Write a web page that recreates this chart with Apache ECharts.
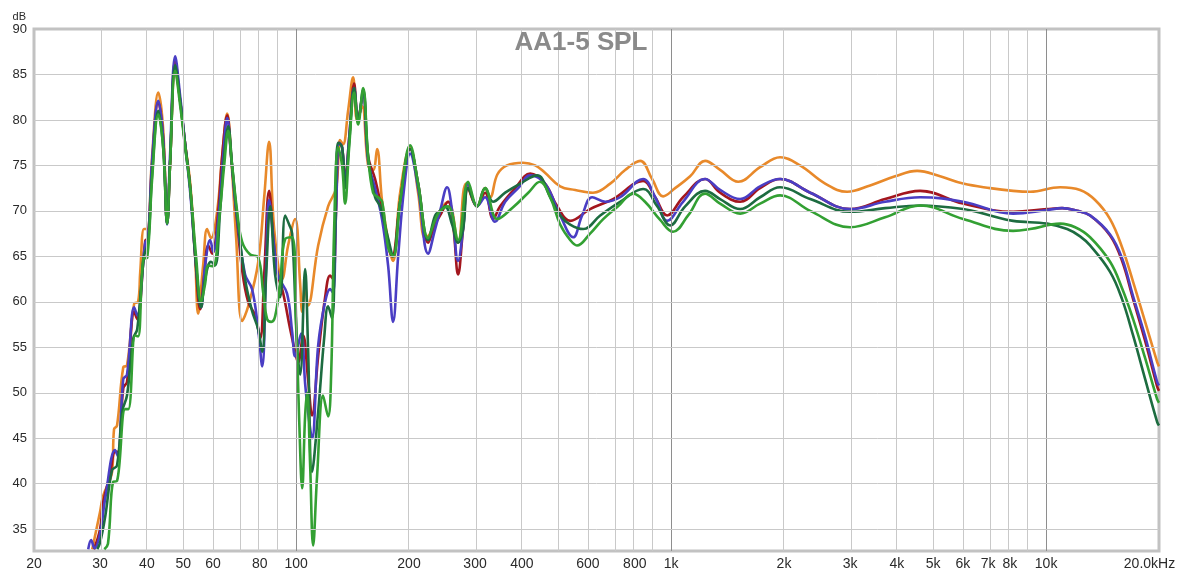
<!DOCTYPE html>
<html>
<head>
<meta charset="utf-8">
<script src="https://cdn.jsdelivr.net/npm/echarts@6/dist/echarts.min.js"></script>
<style>
  html, body { margin: 0; padding: 0; background: #fff; }
  #chart { width: 1179px; height: 571px; }
</style>
</head>
<body>
<div id="chart"></div>
<script>
// Frequency response measurements, [frequency Hz, SPL dB]
const orangeSpl = [[28.6,32.8],[30.0,36.9],[30.6,38.7],[32.3,41.3],[32.7,46.0],[33.3,46.4],[34.6,52.8],[35.4,53.0],[37.0,59.8],[37.9,60.0],[38.4,63.3],[39.3,68.0],[40.1,68.0],[41.3,76.0],[42.9,83.0],[44.2,79.0],[45.3,68.8],[46.1,75.0],[47.6,85.5],[49.1,82.0],[50.6,77.3],[52.2,73.0],[53.8,65.0],[54.8,58.7],[56.5,64.0],[57.9,68.0],[59.3,67.0],[61.6,70.0],[63.5,76.0],[65.5,80.7],[67.1,76.0],[69.2,67.0],[71.8,57.9],[74.5,59.5],[79.2,64.3],[82.2,71.5],[84.7,77.6],[87.4,68.0],[91.8,62.5],[95.2,66.2],[99.4,69.1],[102.5,62.0],[103.8,58.9],[105.7,61.8],[107.6,59.6],[114.5,66.2],[121.7,70.5],[127.8,72.5],[131.0,77.8],[133.4,77.3],[137.6,81.0],[141.9,84.7],[145.4,80.0],[150.0,81.5],[155.6,75.0],[160.4,74.5],[164.4,76.8],[169.6,71.0],[178.1,65.5],[181.4,64.5],[189.4,72.0],[201.4,77.0],[211.5,72.0],[220.8,67.0],[227.7,67.5],[237.7,69.5],[254.3,71.0],[270.4,66.5],[284.0,73.0],[303.8,70.5],[319.1,72.5],[329.1,71.5],[344,74.0],[365,75.0],[403,75.3],[434,75.0],[461,74.2],[506,72.7],[555,72.3],[619,72.0],[688,73.0],[754,74.5],[827,75.5],[890,73.5],[952,71.6],[1025,72.5],[1124,73.8],[1232,75.5],[1351,74.5],[1510,73.2],[1727,74.8],[1953,75.9],[2208,75.0],[2575,73.0],[2947,72.1],[3394,72.8],[3957,73.8],[4529,74.4],[5216,73.8],[6007,73.0],[7092,72.5],[8166,72.2],[9065,72.1],[10900,72.6],[12320,72.3],[13510,71.2],[14810,69.1],[15940,66.0],[17060,62.2],[18370,57.8],[19770,53.4],[20000,52.9]];

const redSpl = [[28.9,32.8],[30.0,35.0],[30.6,38.0],[31.9,41.0],[32.9,43.5],[33.5,43.5],[34.6,50.5],[35.4,51.2],[37.0,58.9],[37.7,58.1],[39.6,66.7],[40.3,67.0],[41.3,75.0],[42.9,82.0],[44.2,78.0],[45.3,68.6],[46.1,75.0],[47.6,86.5],[49.1,82.0],[50.6,77.3],[52.2,72.5],[53.8,65.0],[55.5,59.2],[56.9,63.0],[58.3,66.2],[59.7,65.3],[62.0,70.0],[63.5,76.0],[65.5,80.5],[67.1,76.0],[69.2,70.0],[71.8,63.5],[74.5,60.0],[77.8,58.5],[80.2,56.0],[82.2,63.0],[84.7,72.2],[87.4,66.0],[89.5,62.9],[92.3,61.0],[96.4,57.0],[99.4,54.5],[101.2,53.3],[104.4,56.3],[107.6,51.5],[110.3,47.5],[114.5,54.0],[119.5,60.5],[123.2,62.9],[125.5,62.5],[127.8,70.0],[130.2,77.5],[132.6,77.0],[135.1,73.5],[138.5,78.0],[142.8,84.0],[146.3,80.0],[150.9,83.0],[155.6,76.0],[162.4,73.5],[169.6,70.0],[180.3,65.0],[189.4,71.0],[201.4,76.8],[211.5,73.0],[224.9,66.5],[234.8,68.5],[242.1,69.5],[254.3,71.0],[262.2,68.5],[270.4,63.0],[278.8,68.0],[287.5,72.5],[303.8,70.5],[319.1,72.0],[335.2,69.1],[350,70.5],[384,72.5],[421,74.1],[461,73.0],[497,70.5],[538,68.9],[608,70.2],[700,71.3],[842,73.3],[907,71.5],[976,69.5],[1076,71.5],[1232,73.5],[1351,72.0],[1528,71.0],[1727,72.5],[1953,73.5],[2349,72.0],[3002,70.2],[3721,71.3],[4613,72.2],[6007,70.8],[8166,69.9],[10060,70.2],[11030,70.3],[12100,70.0],[13100,69.5],[14810,67.3],[15940,64.5],[17060,60.3],[18370,55.7],[19770,50.7],[20000,50.2]];

const blueSpl = [[27.9,32.8],[28.4,33.8],[29.0,32.9],[30.0,34.5],[31.0,38.5],[32.9,43.7],[33.5,43.0],[34.6,51.5],[35.4,52.0],[37.0,59.4],[37.7,58.5],[39.6,66.5],[40.3,67.0],[41.3,75.5],[42.9,82.1],[44.2,78.0],[45.3,68.5],[46.1,76.0],[47.6,87.0],[49.1,82.5],[50.6,77.3],[52.2,72.0],[54.1,64.0],[55.8,59.4],[57.2,64.0],[59.0,66.8],[60.1,65.5],[62.3,70.0],[63.9,76.0],[65.5,80.2],[67.1,76.0],[69.2,70.0],[73.1,63.0],[76.3,61.4],[79.2,57.0],[81.2,52.9],[83.2,64.0],[84.7,71.2],[87.4,66.0],[89.5,62.9],[94.6,60.9],[97.6,56.7],[99.4,54.0],[103.1,56.5],[105.7,51.0],[107.6,47.9],[110.3,45.0],[114.5,55.2],[119.5,60.0],[123.2,61.4],[125.5,61.0],[127.8,70.0],[130.2,77.5],[132.6,77.0],[135.1,73.0],[138.5,78.0],[142.8,83.5],[146.3,80.0],[150.9,83.0],[155.6,75.5],[162.4,72.5],[169.6,69.0],[175.9,64.0],[181.4,57.8],[187.1,65.0],[194.1,72.5],[201.4,76.3],[211.5,72.5],[224.9,65.3],[234.8,68.0],[242.1,70.0],[252.7,72.6],[260.6,70.0],[270.4,64.5],[278.8,68.0],[287.5,73.0],[303.8,70.5],[319.1,71.5],[339,68.8],[361,71.0],[391,72.5],[421,73.9],[461,73.0],[506,69.5],[548,67.1],[579,69.5],[616,71.5],[667,71.0],[731,71.5],[842,73.5],[907,71.5],[976,68.9],[1076,71.0],[1232,73.5],[1351,72.3],[1528,71.3],[1727,72.7],[1953,73.5],[2349,72.0],[3002,70.2],[3721,71.0],[4613,71.5],[6007,71.0],[8166,69.7],[10060,70.1],[11030,70.3],[12100,70.0],[13100,69.5],[14810,67.4],[15940,64.8],[17060,60.6],[18370,56.2],[19770,51.2],[20000,50.8]];

const darkGreenSpl = [[29.5,32.8],[30.0,33.5],[31.0,36.5],[32.3,41.5],[33.3,42.0],[34.4,48.0],[35.4,49.7],[36.8,56.0],[37.7,57.0],[39.3,65.0],[40.3,66.5],[41.3,74.0],[42.9,81.0],[44.2,77.0],[45.3,68.6],[46.1,75.0],[47.6,86.0],[49.1,82.0],[50.6,77.3],[52.2,72.5],[54.1,64.0],[55.8,59.4],[57.2,62.5],[59.3,64.4],[60.8,64.0],[62.7,70.0],[64.3,76.0],[65.9,79.3],[67.5,75.0],[69.6,69.5],[73.1,62.5],[76.3,59.0],[79.2,57.0],[81.2,54.5],[83.2,63.0],[85.3,70.5],[87.9,63.0],[90.6,60.5],[93.5,69.5],[95.8,68.5],[97.6,67.5],[100.6,55.2],[102.5,52.0],[105.7,63.6],[107.6,55.0],[110.3,41.3],[114.5,47.9],[118.8,56.0],[121.7,59.5],[124.7,58.2],[127.1,68.0],[129.4,77.5],[132.6,77.0],[135.1,72.5],[138.5,77.5],[142.8,83.5],[146.3,80.0],[150.9,83.3],[155.6,76.0],[162.4,71.5],[167.5,70.5],[175.9,67.0],[181.4,65.0],[189.4,71.0],[201.4,76.8],[211.5,73.0],[224.9,66.8],[234.8,69.5],[242.1,70.0],[249.6,70.5],[260.6,68.5],[270.4,66.5],[278.8,68.0],[287.5,72.5],[303.8,70.5],[319.1,72.5],[335.2,71.0],[361,72.0],[396,73.0],[439,73.9],[476,71.5],[506,69.5],[538,68.5],[583,68.0],[647,69.5],[731,71.0],[842,72.4],[918,70.5],[994,68.4],[1090,70.5],[1232,72.2],[1351,71.3],[1528,70.2],[1727,71.5],[1953,72.6],[2349,71.3],[3002,69.9],[3721,70.3],[4613,70.6],[6007,70.2],[7092,69.5],[8166,68.9],[10060,68.6],[11380,68.0],[12320,67.2],[13100,66.2],[14810,63.3],[15940,60.3],[17060,56.3],[18370,51.5],[19770,46.8],[20000,46.4]];

const greenSpl = [[30.8,32.8],[31.5,33.4],[32.5,40.2],[33.3,40.3],[35.0,48.2],[35.7,48.2],[37.2,56.3],[37.9,56.2],[39.1,64.7],[40.1,64.9],[41.3,73.5],[42.9,80.6],[44.2,77.0],[45.3,68.6],[46.1,75.0],[47.6,85.4],[49.1,81.5],[50.6,77.0],[52.2,72.5],[54.1,65.0],[55.8,60.0],[57.2,62.0],[58.3,64.0],[60.1,63.9],[62.3,69.0],[64.3,75.0],[65.9,78.8],[67.5,75.0],[69.6,70.0],[71.8,66.6],[75.4,65.2],[79.2,64.9],[81.7,61.0],[83.7,58.1],[85.8,57.8],[87.9,58.4],[90.6,62.0],[93.5,66.9],[97.6,67.1],[100.0,58.0],[101.9,47.0],[103.8,39.5],[105.7,47.5],[107.0,50.0],[109.0,42.0],[111.0,33.2],[113.8,41.0],[118.0,49.7],[121.7,47.4],[124.0,52.0],[126.3,68.0],[129.4,77.0],[132.6,75.0],[135.1,70.8],[138.5,77.0],[142.8,83.0],[146.3,79.5],[150.9,83.5],[155.6,76.0],[160.4,72.0],[165.4,71.5],[169.6,71.0],[175.9,66.0],[181.4,65.0],[189.4,71.0],[201.4,77.2],[211.5,73.0],[224.9,67.0],[234.8,69.0],[242.1,70.0],[254.3,70.5],[270.4,66.8],[287.5,73.2],[303.8,70.5],[319.1,72.5],[344,69.1],[379,70.4],[416,72.0],[447,73.2],[476,71.5],[506,68.5],[538,66.8],[561,66.2],[608,67.5],[659,69.1],[722,70.5],[792,71.9],[852,71.0],[935,69.0],[1012,67.7],[1110,69.5],[1232,71.9],[1351,70.8],[1528,69.7],[1727,70.8],[1953,71.7],[2349,70.0],[3002,68.2],[3721,69.3],[4613,70.6],[6007,69.1],[8166,67.8],[9065,68.0],[10900,68.6],[11950,68.2],[13100,67.1],[14810,64.4],[15940,61.5],[17060,58.1],[18370,53.8],[19770,49.3],[20000,48.9]];

// Axis labels and grid
const xLabelFreqs = [20, 30, 40, 50, 60, 80, 100, 200, 300, 400, 600, 800, 1000, 2000, 3000, 4000, 5000, 6000, 7000, 8000, 10000, 20000];
const xLabelTexts = ['20', '30', '40', '50', '60', '80', '100', '200', '300', '400', '600', '800', '1k', '2k', '3k', '4k', '5k', '6k', '7k', '8k', '10k', '20.0kHz'];
const yTickValues = [35, 40, 45, 50, 55, 60, 65, 70, 75, 80, 85, 90];
const freqGridLines = [30, 40, 50, 60, 70, 80, 90, 100, 200, 300, 400, 500, 600, 700, 800, 900, 1000, 2000, 3000, 4000, 5000, 6000, 7000, 8000, 9000, 10000];
const decadeLines = [100, 1000, 10000];

const FREQ_MIN = 20, FREQ_MAX = 20000;
const DB_MIN = 32.6, DB_MAX = 90;
const FONT = '"Liberation Sans", Arial, sans-serif';

const lg = Math.log10;
const toXY = pts => pts.map(([f, db]) => [lg(f), db]);

const chart = echarts.init(document.getElementById('chart'), null, { renderer: 'canvas' });

const gridMarks = []
  .concat(freqGridLines.map(f => ({
    xAxis: lg(f),
    lineStyle: { color: decadeLines.includes(f) ? '#8e8e8e' : '#c9c9c9', width: 1, type: 'solid' }
  })))
  .concat(yTickValues.filter(v => v < DB_MAX).map(v => ({
    yAxis: v,
    lineStyle: { color: '#c9c9c9', width: 1, type: 'solid' }
  })));

const curve = (name, data, color) => ({
  name,
  type: 'line',
  data: toXY(data),
  smooth: 0.4,
  symbol: 'none',
  z: 3,
  lineStyle: { color, width: 2.6 },
  itemStyle: { color },
  emphasis: { disabled: true },
  animation: false
});

chart.setOption({
  backgroundColor: '#ffffff',
  animation: false,
  grid: {
    left: 34, right: 20, top: 29, bottom: 20,
    show: true, borderColor: '#c2c2c2', borderWidth: 3, backgroundColor: '#ffffff'
  },
  xAxis: {
    type: 'value',
    min: lg(FREQ_MIN),
    max: lg(FREQ_MAX),
    axisLine: { show: false },
    axisTick: { show: false },
    splitLine: { show: false },
    axisLabel: {
      customValues: xLabelFreqs.map(lg),
      margin: 6,
      color: '#2a2a2a',
      fontFamily: FONT,
      fontSize: 14,
      formatter: v => {
        const i = xLabelFreqs.findIndex(f => Math.abs(lg(f) - v) < 1e-6);
        if (i < 0) return '';
        return xLabelFreqs[i] === FREQ_MAX ? '{last|' + xLabelTexts[i] + '}' : xLabelTexts[i];
      },
      rich: {
        last: { fontFamily: FONT, fontSize: 14, color: '#2a2a2a', padding: [0, 19, 0, 0] }
      }
    }
  },
  yAxis: {
    type: 'value',
    min: DB_MIN,
    max: DB_MAX,
    axisLine: { show: false },
    axisTick: { show: false },
    splitLine: { show: false },
    axisLabel: {
      customValues: yTickValues,
      margin: 7,
      color: '#2a2a2a',
      fontFamily: FONT,
      fontSize: 13
    }
  },
  graphic: [
    {
      type: 'text', x: 581, y: 43, z: 10, silent: true,
      style: {
        text: 'AA1-5 SPL', fill: '#8a8a8a',
        font: 'bold 26px ' + FONT,
        textAlign: 'center', textVerticalAlign: 'middle'
      }
    },
    {
      type: 'text', x: 26, y: 17, silent: true,
      style: {
        text: 'dB', fill: '#2a2a2a',
        font: '11px ' + FONT,
        textAlign: 'right', textVerticalAlign: 'middle'
      }
    }
  ],
  series: [
    {
      type: 'line',
      data: [],
      z: 1,
      silent: true,
      markLine: {
        silent: true,
        symbol: ['none', 'none'],
        label: { show: false },
        animation: false,
        data: gridMarks
      }
    },
    curve('orange', orangeSpl, '#e8892a'),
    curve('red', redSpl, '#a3161e'),
    curve('blue', blueSpl, '#4a3ec4'),
    curve('darkGreen', darkGreenSpl, '#1d6c40'),
    curve('green', greenSpl, '#33a033')
  ]
});
</script>
</body>
</html>
